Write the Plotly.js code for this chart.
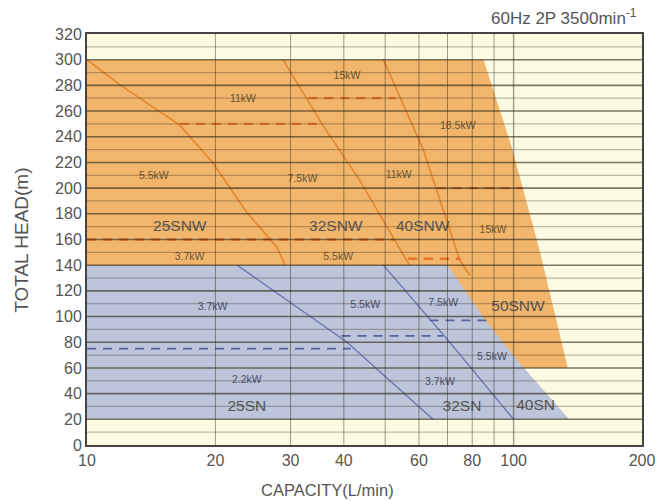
<!DOCTYPE html>
<html><head><meta charset="utf-8">
<script src="https://cdn.plot.ly/plotly-3.0.1.min.js"></script>
<style>html,body{margin:0;padding:0;background:#fff}</style>
</head><body>
<div id="chart" style="width:661px;height:502px"></div>
<script>
// ---- Envelopes (capacity L/min, head m) ----
const snwEnvX = [10, 85, 99, 115, 134, 10];
const snwEnvY = [300, 300, 232, 152, 60, 60];
const snEnvX = [10, 70, 86, 102, 135, 10];
const snEnvY = [140, 140, 97, 66, 20, 20];

// ---- SNW model boundaries (orange solid) ----
const snw25X = [10, 12, 16.5, 19.7, 23.7, 27.9, 29.1];
const snw25Y = [300, 280, 249, 220, 181, 154, 140];
const snw32X = [28.8, 35.7, 43.6, 57];
const snw32Y = [300, 249, 206, 140];
const snw40X = [49.5, 59.5, 61.4, 74.8, 79];
const snw40Y = [300, 241, 230, 144, 132];

// ---- SNW motor-power limits (orange dashed) ----
const snwDashFrom = [16.5, 33, 66, 10, 56.5];
const snwDashTo   = [35.7, 53, 105, 52.7, 75];
const snwDashHead = [250, 270, 200, 160, 145];

// ---- SN model boundaries (blue solid) ----
const sn25X = [22.5, 40.7, 64.7];
const sn25Y = [140, 80, 20];
const sn32X = [49.5, 70, 100];
const sn32Y = [140, 82, 20];

// ---- SN motor-power limits (blue dashed) ----
const snDashFrom = [10, 39.5, 63.5];
const snDashTo   = [41.5, 68.4, 86.5];
const snDashHead = [75, 85, 97];

// ---- Labels ----
const snwKwText = ['11kW', '15kW', '18.5kW', '5.5kW', '7.5kW', '11kW', '15kW', '3.7kW', '5.5kW'];
const snwKwX = [23.2, 40.7, 74, 14.35, 32, 53.8, 89.5, 17.4, 38.8];
const snwKwY = [269, 287, 248, 209, 207, 210, 167, 146, 146];
const snKwText = ['3.7kW', '5.5kW', '7.5kW', '5.5kW', '2.2kW', '3.7kW'];
const snKwX = [19.7, 44.9, 68.4, 89, 23.7, 67.2];
const snKwY = [107.5, 109, 110.6, 68.5, 50.6, 49];
const modelText = ['25SNW', '32SNW', '40SNW', '50SNW', '25SN', '32SN', '40SN'];
const modelX = [16.5, 38.3, 61.2, 102.4, 23.7, 75.7, 112.6];
const modelY = [170, 170, 170, 107.5, 29.6, 29.6, 30];

// ---- Axis ticks ----
const xTickVals = [10, 20, 30, 40, 60, 80, 100, 200];
const xTickText = ['10', '20', '30', '40', '60', '80', '100', '200'];
const xGridVals = [20, 30, 40, 50, 60, 70, 80, 90, 100];
const yMax = 320, yStep = 20, yMinorStep = 10;

const ORANGE_FILL = '#f1b66b', BLUE_FILL = '#bcc5d9';
const ORANGE_LINE = '#e4862e', BLUE_LINE = '#6872b2';
const ORANGE_DASH = '#e8742a', BLUE_DASH = '#56609e';
const FONT = 'Liberation Sans, Arial, sans-serif';

const traces = [];
traces.push({x: snwEnvX, y: snwEnvY, type: 'scatter', mode: 'lines', fill: 'toself',
  fillcolor: ORANGE_FILL, line: {width: 0, color: ORANGE_FILL}});
traces.push({x: snEnvX, y: snEnvY, type: 'scatter', mode: 'lines', fill: 'toself',
  fillcolor: BLUE_FILL, line: {width: 0, color: BLUE_FILL}});

[[snw25X, snw25Y], [snw32X, snw32Y], [snw40X, snw40Y]].forEach(([x, y]) =>
  traces.push({x, y, type: 'scatter', mode: 'lines', line: {color: ORANGE_LINE, width: 1.6}}));
[[sn25X, sn25Y], [sn32X, sn32Y]].forEach(([x, y]) =>
  traces.push({x, y, type: 'scatter', mode: 'lines', line: {color: BLUE_LINE, width: 1.3}}));

snwDashHead.forEach((h, i) => traces.push({x: [snwDashFrom[i], snwDashTo[i]], y: [h, h],
  type: 'scatter', mode: 'lines', line: {color: ORANGE_DASH, width: 2.3, dash: '9px,7px'}}));
snDashHead.forEach((h, i) => traces.push({x: [snDashFrom[i], snDashTo[i]], y: [h, h],
  type: 'scatter', mode: 'lines', line: {color: BLUE_DASH, width: 1.6, dash: '9px,7px'}}));

traces.push({x: snwKwX, y: snwKwY, text: snwKwText, type: 'scatter', mode: 'text',
  textfont: {family: FONT, size: 10.5, color: '#6a5536'}});
traces.push({x: snKwX, y: snKwY, text: snKwText, type: 'scatter', mode: 'text',
  textfont: {family: FONT, size: 10.5, color: '#4b4f66'}});
traces.push({x: modelX, y: modelY, text: modelText, type: 'scatter', mode: 'text',
  textfont: {family: FONT, size: 15.5, color: '#555555'}});

// grid drawn on top of the filled regions
const shapes = [];
const lx = v => Math.log10(v / 10) / Math.log10(200 / 10);
for (let v = yMinorStep; v < yMax; v += yMinorStep) {
  const major = v % yStep === 0;
  shapes.push({type: 'line', xref: 'paper', yref: 'y', x0: 0, x1: 1, y0: v, y1: v, layer: 'above',
    line: {color: major ? 'rgba(45,38,22,0.62)' : 'rgba(45,38,22,0.30)', width: major ? 1.6 : 1.2}});
}
xGridVals.forEach(v => shapes.push({type: 'line', xref: 'paper', yref: 'paper', x0: lx(v), x1: lx(v),
  y0: 0, y1: 1, layer: 'above', line: {color: 'rgba(45,38,22,0.45)', width: v === 100 ? 1.4 : 1}}));

const layout = {
  width: 661, height: 502,
  margin: {l: 87, r: 19, t: 34, b: 57},
  paper_bgcolor: '#ffffff', plot_bgcolor: '#fbfbe1',
  showlegend: false, hovermode: false,
  font: {family: FONT, color: '#555'},
  xaxis: {type: 'log', range: [1, Math.log10(200)], tickvals: xTickVals, ticktext: xTickText,
    showgrid: false, zeroline: false, showline: true, mirror: true, linecolor: '#444', linewidth: 2,
    ticks: '', tickfont: {family: FONT, size: 16, color: '#555'}},
  yaxis: {range: [0, yMax], dtick: yStep, tick0: 0, showgrid: false, zeroline: false,
    showline: true, mirror: true, linecolor: '#444', linewidth: 2, ticks: '',
    tickfont: {family: FONT, size: 16, color: '#555'}},
  shapes: shapes,
  annotations: [
    {xref: 'paper', yref: 'paper', x: 0.434, y: -0.109, text: 'CAPACITY(L/min)', showarrow: false,
      xanchor: 'center', yanchor: 'middle', font: {family: FONT, size: 16.5, color: '#555'}},
    {xref: 'paper', yref: 'paper', x: -0.117, y: 0.497, text: 'TOTAL HEAD(m)', showarrow: false,
      textangle: -90, xanchor: 'center', yanchor: 'middle', font: {family: FONT, size: 19, color: '#555'}},
    {xref: 'paper', yref: 'paper', x: 0.995, y: 1.041, text: '60Hz 2P 3500min<sup>-1</sup>', showarrow: false,
      xanchor: 'right', yanchor: 'middle', font: {family: FONT, size: 17, color: '#555'}}
  ]
};

Plotly.newPlot('chart', traces, layout, {staticPlot: true, displayModeBar: false});
</script>
</body></html>
